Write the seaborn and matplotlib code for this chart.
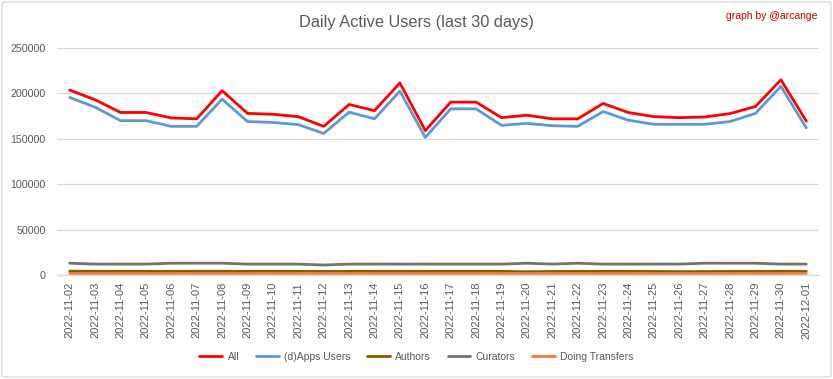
import matplotlib
matplotlib.use("Agg")
import matplotlib.pyplot as plt
import seaborn as sns
import pandas as pd
import numpy as np
from matplotlib.patches import FancyBboxPatch

dates = ["2022-11-02", "2022-11-03", "2022-11-04", "2022-11-05", "2022-11-06",
         "2022-11-07", "2022-11-08", "2022-11-09", "2022-11-10", "2022-11-11",
         "2022-11-12", "2022-11-13", "2022-11-14", "2022-11-15", "2022-11-16",
         "2022-11-17", "2022-11-18", "2022-11-19", "2022-11-20", "2022-11-21",
         "2022-11-22", "2022-11-23", "2022-11-24", "2022-11-25", "2022-11-26",
         "2022-11-27", "2022-11-28", "2022-11-29", "2022-11-30", "2022-12-01"]

all_users = [203700, 193000, 179000, 179000, 173000, 172000, 203000, 178000, 177000, 174400,
             163700, 187800, 181000, 211500, 159000, 190400, 190400, 173300, 176000, 172000,
             172000, 188900, 178900, 174400, 173300, 174000, 177800, 185600, 215000, 169600]
apps_users = [195500, 184800, 170000, 170000, 163700, 163700, 193700, 169000, 168000, 165600,
              155900, 179300, 172000, 202600, 151500, 183000, 183000, 164800, 167000, 164400,
              163700, 180000, 170400, 166000, 166000, 166000, 169000, 178000, 207800, 162000]
authors = [4200, 4100, 4000, 4000, 4000, 4100, 4100, 4000, 4000, 4000,
           3900, 4000, 4000, 4100, 4000, 4000, 4000, 4000, 3600, 3900,
           4000, 4000, 4000, 3900, 3700, 3800, 4000, 4000, 4100, 4000]
curators = [13000, 12000, 12000, 12000, 13000, 13000, 13000, 12000, 12000, 12000,
            11000, 12000, 12000, 12000, 12000, 12000, 12000, 12000, 13000, 12000,
            13000, 12000, 12000, 12000, 12000, 13000, 13000, 13000, 12000, 12000]
transfers = [1800, 1800, 1800, 1800, 1800, 1800, 1800, 1800, 1800, 1800,
             1700, 1800, 1800, 1800, 1800, 1800, 1800, 1800, 1700, 1800,
             1800, 1800, 1800, 1700, 1700, 1700, 1800, 1800, 1800, 1800]

series_names = ["All", "(d)Apps Users", "Authors", "Curators", "Doing Transfers"]
series_values = [all_users, apps_users, authors, curators, transfers]
colors = ["#FF0000", "#5B9BD5", "#7F6000", "#767171", "#ED7D31"]

rows = []
for name, vals in zip(series_names, series_values):
    for i, v in enumerate(vals):
        rows.append({"idx": i, "value": v, "series": name})
df = pd.DataFrame(rows)

sns.set_theme(style="white")
plt.rcParams["font.family"] = ["Liberation Sans", "DejaVu Sans"]

fig = plt.figure(figsize=(8.33, 3.79), dpi=100)
ax = fig.add_axes([57 / 833, 1 - 275 / 379, (819 - 57) / 833, (275 - 48) / 379])

sns.lineplot(data=df, x="idx", y="value", hue="series", hue_order=series_names,
             palette=colors, linewidth=2.0, ax=ax, legend=False, sort=False)

ax.set_xlim(-0.5, len(dates) - 0.5)
ax.set_ylim(0, 250000)
ax.set_yticks([0, 50000, 100000, 150000, 200000, 250000])
ax.set_yticklabels(["0", "50000", "100000", "150000", "200000", "250000"],
                   fontsize=7.7, color="#595959")
ax.set_xticks(range(len(dates)))
ax.set_xticklabels(dates, rotation=90, fontsize=8, color="#595959")
ax.tick_params(axis="x", length=0, pad=5)
ax.tick_params(axis="y", length=0, pad=8)
ax.set_xlabel("")
ax.set_ylabel("")
ax.grid(axis="y", color="#D9D9D9", linewidth=0.9)
ax.set_axisbelow(True)
for s in ["top", "right", "left"]:
    ax.spines[s].set_visible(False)
ax.spines["bottom"].set_color("#D9D9D9")
ax.spines["bottom"].set_linewidth(0.9)

fig.text(416 / 833, 1 - 22 / 379, "Daily Active Users (last 30 days)", ha="center",
         va="center", fontsize=11.8, color="#595959")
fig.text(818 / 833, 1 - 16 / 379, "graph by @arcange", ha="right", va="center",
         fontsize=7.5, color="#C00000")

handles = [plt.Line2D([0], [0], color=c, linewidth=2.0) for c in colors]
fig.legend(handles, series_names, loc="center", bbox_to_anchor=(0.5, 1 - 357 / 379),
           ncol=5, frameon=False, fontsize=7.5, handlelength=2.2, columnspacing=1.6,
           handletextpad=0.5, labelcolor="#595959")

border = FancyBboxPatch((2 / 833, 2 / 379), 829 / 833, 375 / 379,
                        boxstyle="round,pad=0,rounding_size=0.005",
                        transform=fig.transFigure, fill=False,
                        edgecolor="#D9D9D9", linewidth=1.0)
fig.patches.append(border)

fig.savefig("out.png", dpi=100)
